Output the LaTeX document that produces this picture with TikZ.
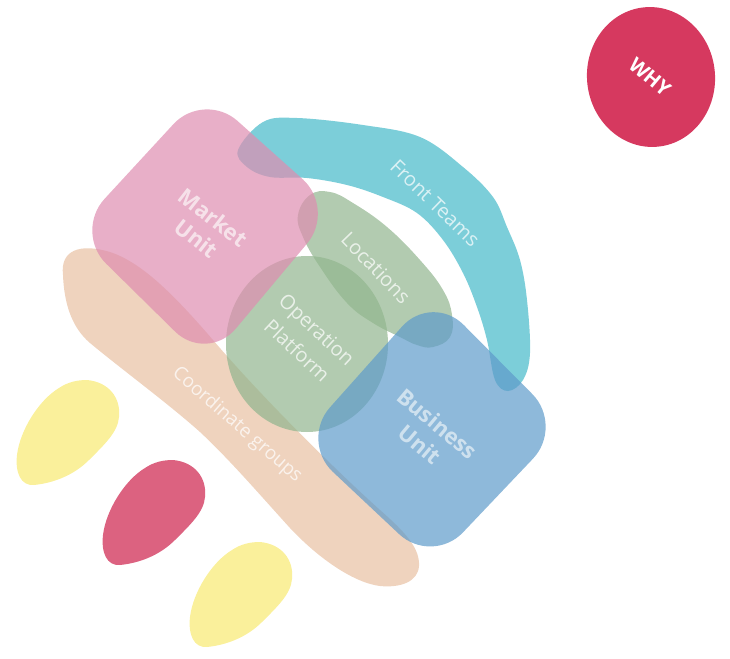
\documentclass[tikz,border=0pt]{standalone}
\usepackage{fontspec}
\setmainfont{Open Sans}
\usetikzlibrary{calc}

\definecolor{peach}{RGB}{232,192,162}
\definecolor{teamcyan}{RGB}{69,185,201}
\definecolor{locgreen}{RGB}{145,181,142}
\definecolor{mktpink}{RGB}{222,141,176}
\definecolor{busblue}{RGB}{94,155,202}
\definecolor{whyred}{RGB}{214,57,95}
\definecolor{blobred}{RGB}{220,98,128}
\definecolor{blobyellow}{RGB}{250,240,155}

\tikzset{
  area/.style={fill=#1, fill opacity=0.7},
  lbl/.style={text=white, text opacity=0.72, align=center,
    font=\fontsize{20}{29}\selectfont},
  unitlbl/.style={text=white, text opacity=0.8, align=center,
    font=\bfseries\fontsize{22}{27}\selectfont}
}

\begin{document}
\begin{tikzpicture}[x=1pt,y=-1pt]
  \useasboundingbox (0,0) rectangle (730,658);

  % small blobs down left
  \foreach \dx/\dy/\col in {-86/-80/blobyellow, 0/0/blobred, 87/82/blobyellow}
    \fill[\col, shift={(\dx,\dy)}] (173,460)
      .. controls (195,462) and (207,478) .. (205,497)
      .. controls (204,512) and (190,525) .. (175,540)
      .. controls (160,555) and (140,563) .. (120,565)
      .. controls (107,566) and (101,553) .. (103,535)
      .. controls (106,510) and (125,480) .. (145,468)
      .. controls (154,462) and (163,460) .. (173,460) -- cycle;

  % coordinate groups band
  \fill[area=peach] (63,275)
    .. controls (60,250) and (80,243) .. (110,252)
    .. controls (140,262) and (170,290) .. (213,340)
    .. controls (260,395) and (330,465) .. (380,510)
    .. controls (405,532) and (420,548) .. (419,566)
    .. controls (418,582) and (400,588) .. (380,586)
    .. controls (355,583) and (320,560) .. (290,528)
    .. controls (260,495) and (230,460) .. (200,432)
    .. controls (170,405) and (120,368) .. (90,343)
    .. controls (70,326) and (64,300) .. (63,275) -- cycle;

  % front teams band
  \fill[area=teamcyan] plot[smooth cycle, tension=0.6] coordinates {
    (238,150) (263,122) (297,118) (363,125) (420,137) (463,167) (493,197)
    (507,227) (520,260) (527,300) (530,353) (523,380) (508,391) (495,380)
    (487,340) (477,307) (463,273) (443,240) (417,213) (383,197) (347,185)
    (307,178) (270,177) (247,167)};

  % locations
  \fill[area=locgreen] plot[smooth cycle, tension=0.7] coordinates {
    (298,215) (310,195) (330,192) (353,203) (387,227) (420,260) (443,290)
    (452,315) (450,337) (433,347) (417,345) (400,337) (373,323) (347,303)
    (320,267) (303,237)};

  % operation platform
  \fill[area=locgreen] (307,344) ellipse [x radius=81, y radius=88];

  % market unit
  \coordinate (MT) at (204,91);
  \coordinate (MR) at (336,209);
  \coordinate (MB) at (207,363);
  \coordinate (ML) at (74,232);
  \fill[area=mktpink, rounded corners=45pt]
    ($(MT)!.5!(MR)$) -- (MR) -- (MB) -- (ML) -- (MT) -- cycle;

  % business unit
  \coordinate (BT) at (432,293);
  \coordinate (BR) at (564,426);
  \coordinate (BB) at (432,565);
  \coordinate (BL) at (300,441);
  \fill[area=busblue, rounded corners=45pt]
    ($(BT)!.5!(BR)$) -- (BR) -- (BB) -- (BL) -- (BT) -- cycle;

  % why
  \fill[whyred, rotate around={6:(651,77)}] (651,77) ellipse [x radius=64, y radius=70];

  \node[lbl, rotate=-44] (front) at (435,203) {Front Teams};
  \node[lbl, rotate=-46] (loc) at (376,268) {Locations};
  \node[lbl, rotate=-43] (oper) at (307,340) {Operation\\Platform};
  \node[lbl, rotate=-41, font=\fontsize{19}{22}\selectfont] (coord) at (237,425) {Coordinate groups};

  \node[unitlbl, rotate=-38, text=white!85!mktpink] (mkt) at (205,228) {Market\\Unit};
  \node[unitlbl, rotate=-40, text=white!80!busblue] (bus) at (429,434) {Business\\Unit};

  \node[text=white, rotate=-40, font=\bfseries\fontsize{20}{22}\selectfont] (why) at (650,77) {WHY};
\end{tikzpicture}
\end{document}
